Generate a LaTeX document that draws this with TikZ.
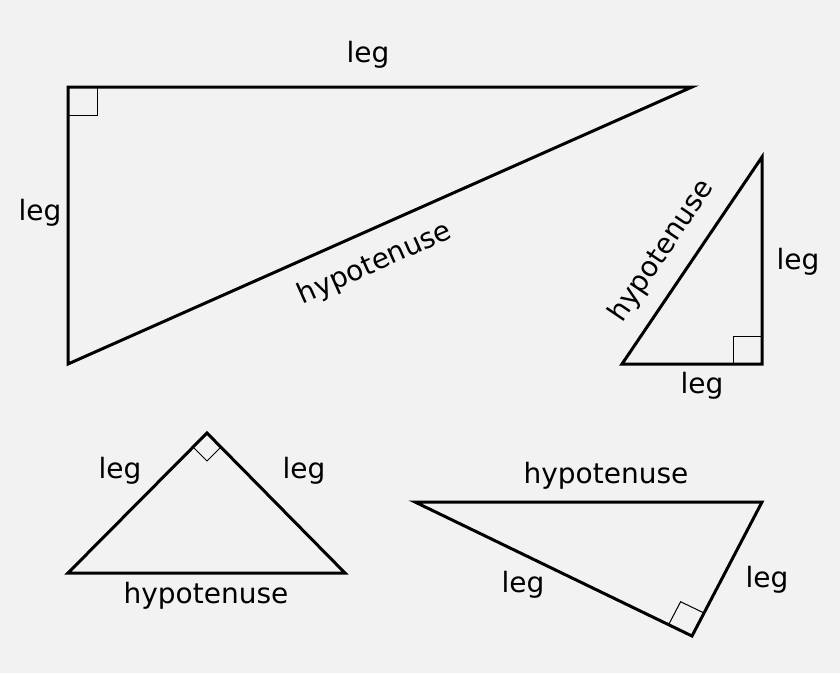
\documentclass[tikz,border=0pt]{standalone}
\usepackage{fontspec}
\setmainfont{DejaVu Sans}
\begin{document}
\begin{tikzpicture}[x=1pt,y=-1pt,
  tri/.style={line width=3pt,line join=miter},
  sq/.style={line width=1pt},
  lbl/.style={font=\fontsize{28}{32}\selectfont,inner sep=0pt}]
\fill[gray!10] (0,0) rectangle (840,673);
\useasboundingbox (0,0) rectangle (840,673);
% triangle 1
\coordinate (a1) at (68,87); \coordinate (b1) at (692,87); \coordinate (c1) at (68,364);
\draw[tri] (a1)--(b1)--(c1)--cycle;
\draw[sq] (68,115)--(97,115)--(97,87);
\node[lbl] (l1) at (368,55) {leg};
\node[lbl] (l2) at (40,213) {leg};
\node[lbl,rotate=24] (h1) at (375,264) {hypotenuse};
% triangle 2
\coordinate (a2) at (622,364); \coordinate (b2) at (762,364); \coordinate (c2) at (762,157);
\draw[tri] (a2)--(b2)--(c2)--cycle;
\draw[sq] (733,364)--(733,336)--(762,336);
\node[lbl] (l3) at (798,262) {leg};
\node[lbl] (l4) at (702,386) {leg};
\node[lbl,rotate=56] (h2) at (662,251) {hypotenuse};
% triangle 3
\coordinate (a3) at (68,573); \coordinate (b3) at (345,573); \coordinate (c3) at (207,433);
\draw[tri] (a3)--(b3)--(c3)--cycle;
\draw[sq] (193,447)--(207,461)--(221,447);
\node[lbl] (l5) at (120,471) {leg};
\node[lbl] (l6) at (304,471) {leg};
\node[lbl] (h3) at (206,596) {hypotenuse};
% triangle 4
\coordinate (a4) at (415,502); \coordinate (b4) at (762,502); \coordinate (c4) at (692,636);
\draw[tri] (a4)--(b4)--(c4)--cycle;
\draw[sq] (668.6,624.7)--(680.6,601.7)--(704,613);
\node[lbl] (h4) at (606,476) {hypotenuse};
\node[lbl] (l7) at (523,585) {leg};
\node[lbl] (l8) at (767,580) {leg};
\end{tikzpicture}
\end{document}
